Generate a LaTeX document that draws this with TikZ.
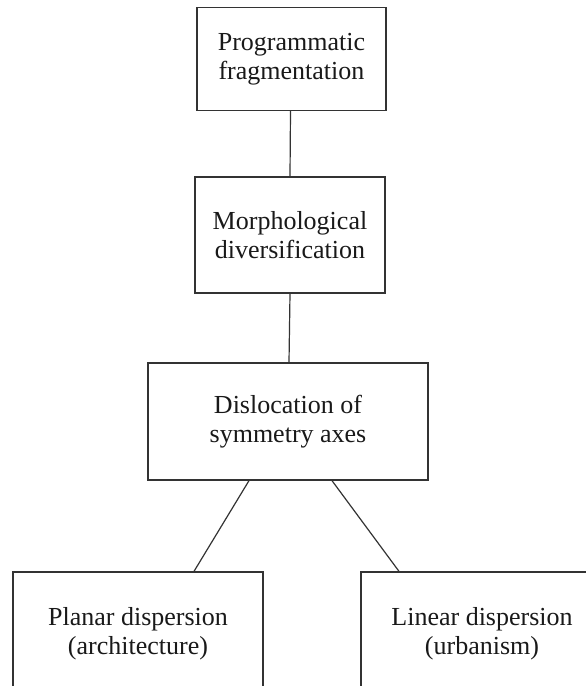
\documentclass[tikz,border=0pt]{standalone}
\usepackage{fontspec}
\setmainfont{Liberation Serif}
\begin{document}
\begin{tikzpicture}[x=1pt,y=1pt,
  box/.style={draw=black!80, line width=1.3pt, rectangle, align=center,
    font=\fontsize{26}{29}\selectfont, inner sep=0pt, text=black!90},
  link/.style={draw=black!80, line width=1.2pt}]
\useasboundingbox (0,0) rectangle (586,686);
\clip (0,0) rectangle (586,686);
\node[box, minimum width=189pt, minimum height=103pt] (b1) at (291.5,627) {Programmatic\\fragmentation};
\node[box, minimum width=190pt, minimum height=116pt] (b2) at (290,451) {Morphological\\diversification};
\node[box, minimum width=280pt, minimum height=117pt] (b3) at (288,264.5) {Dislocation of\\symmetry axes};
\node[box, minimum width=250pt, minimum height=124pt] (b4) at (138,52) {Planar dispersion\\(architecture)};
\node[box, minimum width=242pt, minimum height=124pt] (b5) at (482,52) {Linear dispersion\\(urbanism)};
\draw[link] ([xshift=-1pt]b1.south) -- (b2.north);
\draw[link] (b2.south) -- ([xshift=1pt]b3.north);
\draw[link] ([xshift=-39pt]b3.south) -- ([xshift=56pt]b4.north);
\draw[link] ([xshift=44pt]b3.south) -- ([xshift=-83pt]b5.north);
\end{tikzpicture}
\end{document}
